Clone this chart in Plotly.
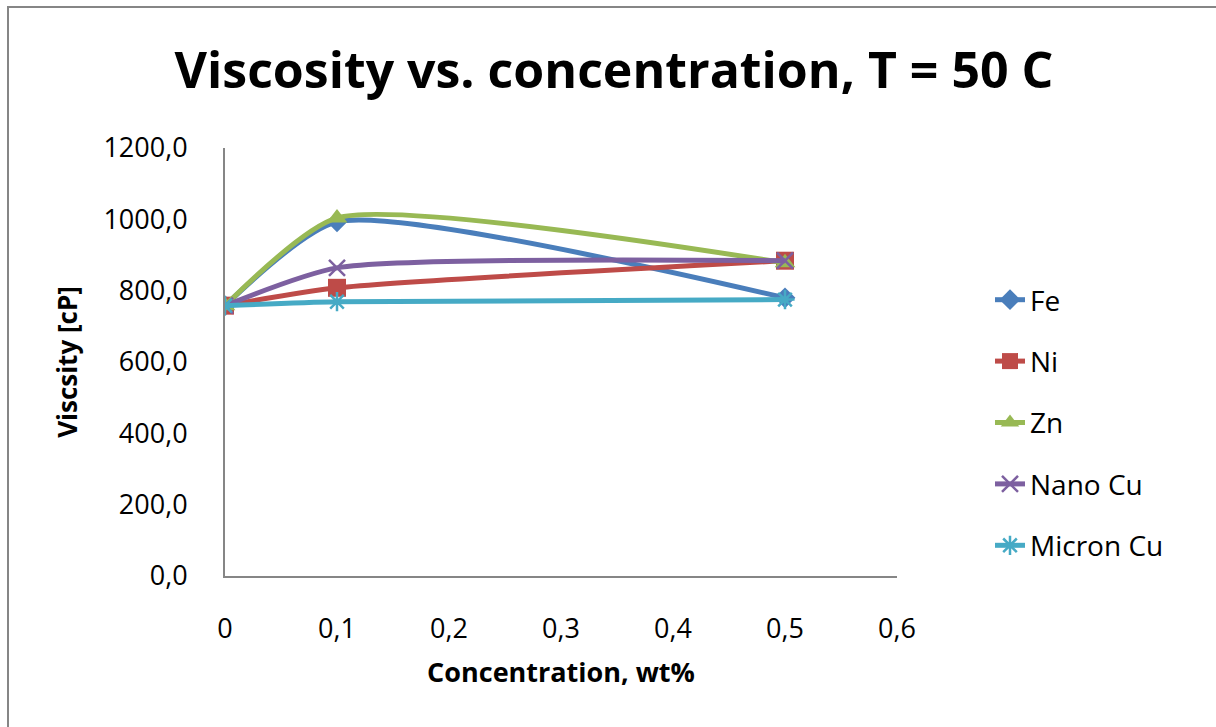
import plotly.graph_objects as go

conc = [0, 0.1, 0.5]
fe = [758, 993, 780]
ni = [758, 808, 884]
zn = [758, 1004, 878]
nano_cu = [758, 864, 884]
micron_cu = [758, 769, 775]

names = ["Fe", "Ni", "Zn", "Nano Cu", "Micron Cu"]
series = [fe, ni, zn, nano_cu, micron_cu]
colors = ["#4A7EBB", "#BE4B48", "#98B954", "#7D60A0", "#46AAC5"]
symbols = ["diamond", "square", "triangle-up", "x-thin", "asterisk"]
sizes = [16, 18, 18, 16, 16]

FONT = "Open Sans"
fig = go.Figure()
for i, (n, s) in enumerate(zip(names, series)):
    mk = dict(symbol=symbols[i], size=sizes[i], color=colors[i])
    if symbols[i] in ("x-thin", "asterisk"):
        mk["line"] = dict(color=colors[i], width=2.5)
    fig.add_trace(go.Scatter(
        x=conc, y=s, name=n, mode="lines+markers",
        line=dict(color=colors[i], width=5, shape="spline", smoothing=0.6),
        marker=mk, legendgroup=n,
    ))

L, R, T, B = 225, 897, 148, 576
W, H = 1216, 727
pw, ph = R - L, B - T

fig.update_layout(
    width=W, height=H,
    margin=dict(l=L, r=W - R, t=T, b=H - B),
    paper_bgcolor="white", plot_bgcolor="white",
    separators=", ",
    font=dict(family=FONT, color="black"),
    title=dict(text="<b>Viscosity vs. concentration, T = 50 C</b>",
               x=614 / W, xanchor="center", y=1 - 70 / H, yanchor="middle",
               font=dict(size=50, family=FONT)),
    xaxis=dict(range=[0, 0.6], dtick=0.1, showgrid=False, zeroline=False,
               showline=True, linecolor="#868686", linewidth=2,
               ticks="", tickfont=dict(size=27), ticklabelstandoff=28,
               title=dict(text="<b>Concentration, wt%</b>", font=dict(size=27), standoff=18)),
    yaxis=dict(range=[0, 1200], dtick=200, tickformat=".1f", showgrid=False, zeroline=False,
               showline=True, linecolor="#868686", linewidth=2,
               ticks="", tickfont=dict(size=27), ticklabelstandoff=30,
               title=dict(text="<b>Viscsity [cP]</b>", font=dict(size=26), standoff=18)),
    legend=dict(x=(990 - L) / pw, xanchor="left", y=(B - 275) / ph, yanchor="top",
                font=dict(size=28), tracegroupgap=22, traceorder="grouped",
                bgcolor="rgba(0,0,0,0)"),
    showlegend=True,
)

# outer chart border
fig.add_shape(type="rect", xref="paper", yref="paper",
              x0=(8 - L) / pw, x1=(W + 10 - L) / pw,
              y0=(B - (H + 10)) / ph, y1=(B - 7) / ph,
              line=dict(color="#868686", width=2), fillcolor="rgba(0,0,0,0)", layer="below")

fig.write_html("out.html")
